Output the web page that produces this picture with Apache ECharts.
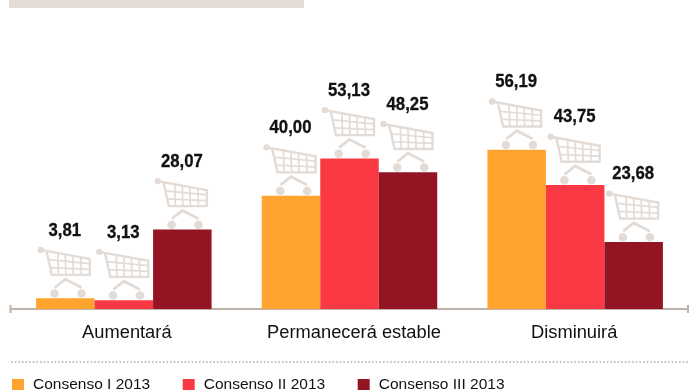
<!DOCTYPE html>
<html><head><meta charset="utf-8">
<style>html,body{margin:0;padding:0;background:#fff}#c{width:689px;height:390px}</style>
<script src="https://cdn.jsdelivr.net/npm/echarts@6/dist/echarts.min.js"></script>
</head><body><div id="c"></div>
<script>
const categories = ['Aumentará', 'Permanecerá estable', 'Disminuirá'];
const consenso1 = [3.81, 40.00, 56.19];
const consenso2 = [3.13, 53.13, 43.75];
const consenso3 = [28.07, 48.25, 23.68];
const seriesNames = ['Consenso I 2013', 'Consenso II 2013', 'Consenso III 2013'];
const seriesColors = ['#FFA42F', '#FB3945', '#931524'];
const cartColor = '#E3DBD5';
const axisColor = '#BDB3AA';
const ink = '#111';
const barW = 58.5;

function cart(ox, oy) {
  const kids = [];
  const line = (pts, w) => kids.push({ type: 'polyline', shape: { points: pts.map(p => [ox + p[0], oy + p[1]]) }, style: { fill: 'none', stroke: cartColor, lineWidth: w } });
  const dot = (x, y, r) => kids.push({ type: 'circle', shape: { cx: ox + x, cy: oy + y, r }, style: { fill: cartColor } });
  dot(3, 3.7, 3.2);
  line([[3, 3.7], [52, 12.7], [52, 28.7], [14, 28.7], [8.7, 5]], 2.4);
  [[20, 7.5], [27.5, 9], [35, 10.2], [43, 11.3]].forEach(v => line([[v[0], v[1]], [v[0] + 0.5, 28.7]], 1.7));
  line([[10.6, 13.5], [52, 17.5]], 1.7);
  line([[12.4, 21.5], [52, 23.2]], 1.7);
  line([[17, 41.3], [27.5, 33], [43.7, 41.3]], 2.8);
  dot(16.7, 47.3, 4.3);
  dot(43.7, 47.3, 4.3);
  return kids;
}

const bars = [consenso1, consenso2, consenso3].map((d, i) => ({
  type: 'bar', name: seriesNames[i], data: d, barWidth: barW, barGap: 0,
  itemStyle: { color: seriesColors[i] }, z: 3
}));
const carts = [consenso1, consenso2, consenso3].map((d, i) => ({
  type: 'custom', name: seriesNames[i], data: d.map((v, k) => [k, v]),
  encode: { x: 0, y: 1 }, z: 2, silent: true, itemStyle: { color: seriesColors[i] },
  renderItem(params, api) {
    const p = api.coord([api.value(0), api.value(1)]);
    const cx = p[0] + (i - 1) * barW;
    return { type: 'group', children: [
      ...cart(cx - 27.5, p[1] - 52),
      { type: 'text', x: cx - 0.5, y: p[1] - 67.5, scaleX: 0.93,
        style: { text: api.value(1).toFixed(2).replace('.', ','), x: 0, y: 0,
        align: 'center', verticalAlign: 'middle', fill: ink, stroke: ink, lineWidth: 0.3,
        font: 'bold 18px "Liberation Sans",sans-serif' } }
    ] };
  }
}));

const labelFont = { color: ink, fontSize: 18.3, fontFamily: '"Liberation Sans",sans-serif' };
const chart = echarts.init(document.getElementById('c'), null, { renderer: 'canvas' });
chart.setOption({
  animation: false,
  grid: { left: 11, right: 1, top: 10, bottom: 81 },
  graphic: [
    { type: 'rect', shape: { x: 9, y: 0, width: 295, height: 8 }, style: { fill: '#E3DBD5' } },
    { type: 'line', shape: { x1: 12, y1: 362, x2: 689, y2: 362 }, style: { stroke: '#C6BCB4', lineWidth: 2, lineCap: 'round', lineDash: [0.01, 3.6] } },
    { type: 'line', shape: { x1: 10.5, y1: 305, x2: 10.5, y2: 313 }, style: { stroke: axisColor, lineWidth: 2 } },
    { type: 'line', shape: { x1: 688, y1: 305, x2: 688, y2: 313 }, style: { stroke: axisColor, lineWidth: 2 } }
  ],
  legend: {
    data: seriesNames, left: 12, top: 377, itemWidth: 12, itemHeight: 12, itemGap: 32.5,
    icon: 'rect', padding: 0,
    textStyle: { color: ink, fontSize: 15.5, fontFamily: '"Liberation Sans",sans-serif', padding: [0, 0, 0, 4] }
  },
  xAxis: {
    type: 'category', data: categories,
    axisLine: { lineStyle: { color: axisColor, width: 2 } }, axisTick: { show: false },
    axisLabel: {
      ...labelFont, margin: 15, interval: 0, hideOverlap: false,
      formatter: (v, i) => '{l' + i + '|' + v + '}',
      rich: {
        l0: { ...labelFont, padding: [0, 0, 0, 6] },
        l1: { ...labelFont, padding: [0, 0, 0, 9] },
        l2: { ...labelFont, padding: [0, 2, 0, 0] }
      }
    }
  },
  yAxis: { type: 'value', min: 0, max: 105.5, show: false, splitLine: { show: false } },
  series: [...bars, ...carts]
});
</script></body></html>
